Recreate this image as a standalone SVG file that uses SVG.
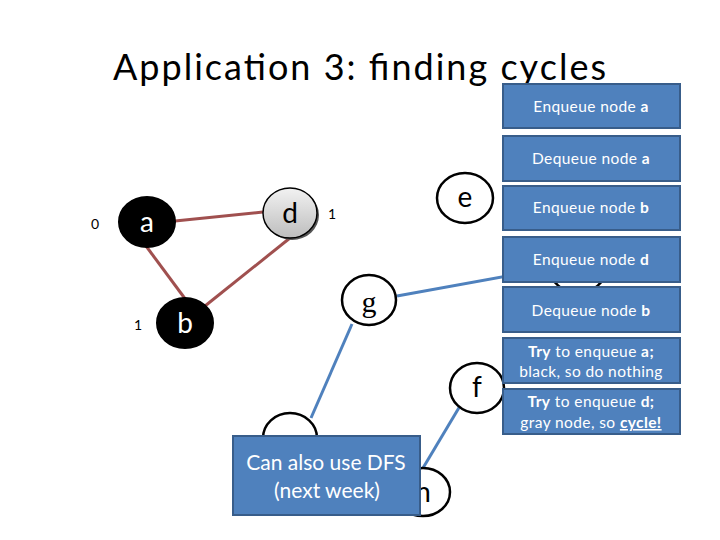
<svg xmlns="http://www.w3.org/2000/svg" width="720" height="540" viewBox="0 0 720 540">
<defs>
<style>
.t{font-family:Lato,"Liberation Sans",sans-serif;}
.node{fill:#fff;stroke:#000;stroke-width:2.5;}
.blk{fill:#000;stroke:#000;stroke-width:2;}
.lbl{font-family:Lato,"Liberation Sans",sans-serif;font-size:28px;text-anchor:middle;fill:#000;}
.ser{font-family:"Liberation Serif",serif;font-size:30px;text-anchor:middle;fill:#000;}
.num{font-family:Lato,"Liberation Sans",sans-serif;font-size:14px;fill:#000;}
.box{fill:#4f81bd;stroke:#385d8a;stroke-width:2;}
.bt{font-family:Lato,"Liberation Sans",sans-serif;font-size:15.5px;letter-spacing:0.4px;fill:#fff;text-anchor:middle;}
.red{stroke:#a0504f;stroke-width:3;fill:none;}
.blue{stroke:#4f81bd;stroke-width:3;fill:none;}
</style>
<linearGradient id="gray" x1="0" y1="0" x2="0" y2="1">
<stop offset="0" stop-color="#f2f2f2"/>
<stop offset="1" stop-color="#bdbdbd"/>
</linearGradient>
</defs>
<rect width="720" height="540" fill="#fff"/>
<text class="t" x="113" y="80" font-size="36" fill="#000" textLength="493">Application 3: finding cycles</text>

<g id="connectors">
<line class="red" x1="175" y1="221" x2="263" y2="212"/>
<line class="red" x1="146" y1="246" x2="186" y2="300"/>
<line class="red" x1="290" y1="238" x2="205" y2="306"/>
<line class="blue" x1="397" y1="296" x2="551" y2="268"/>
<line class="blue" x1="352" y1="324" x2="311" y2="418"/>
<line class="blue" x1="460" y1="406" x2="423" y2="468"/>
</g>

<g id="node-a"><ellipse class="blk" cx="147" cy="222" rx="28" ry="25"/><text class="lbl" x="147" y="232" style="fill:#fff">a</text><text class="num" x="91" y="229">0</text></g>
<g id="node-b"><ellipse class="blk" cx="185" cy="323" rx="28" ry="25"/><text class="lbl" x="185" y="333" style="fill:#fff">b</text><text class="num" x="134" y="330">1</text></g>
<g id="node-d"><ellipse cx="292" cy="215" rx="27" ry="25" fill="#555"/><ellipse cx="290" cy="213" rx="27" ry="25" fill="url(#gray)" stroke="#000" stroke-width="1.5"/><text class="lbl" x="290" y="223">d</text><text class="num" x="328" y="219">1</text></g>
<g id="node-e"><ellipse class="node" cx="465" cy="198" rx="28" ry="25"/><text class="lbl" x="465" y="207">e</text></g>
<g id="node-g"><ellipse class="node" cx="369" cy="300" rx="27" ry="25"/><text class="ser" x="369" y="312">g</text></g>
<g id="node-c"><ellipse class="node" cx="578" cy="268" rx="28" ry="25"/></g>
<g id="node-f"><ellipse class="node" cx="477" cy="388" rx="27" ry="25"/><text class="lbl" x="477" y="397">f</text></g>
<g id="node-i"><ellipse class="node" cx="290" cy="438" rx="27" ry="25"/></g>
<g id="node-h"><ellipse class="node" cx="423" cy="492" rx="27" ry="24"/><text class="lbl" x="423" y="502">h</text></g>

<g id="dfs-note"><rect class="box" x="233" y="436" width="187" height="79"/>
<text class="t" x="326" y="470" font-size="21" fill="#fff" text-anchor="middle">Can also use DFS</text>
<text class="t" x="327" y="498" font-size="21" fill="#fff" text-anchor="middle">(next week)</text></g>

<g id="step1"><rect class="box" x="503" y="84" width="177" height="44"/><text class="bt" x="591" y="112">Enqueue node <tspan font-weight="bold">a</tspan></text></g>
<g id="step2"><rect class="box" x="503" y="136" width="177" height="45"/><text class="bt" x="591" y="164">Dequeue node <tspan font-weight="bold">a</tspan></text></g>
<g id="step3"><rect class="box" x="503" y="186" width="177" height="44"/><text class="bt" x="591" y="213">Enqueue node <tspan font-weight="bold">b</tspan></text></g>
<g id="step4"><rect class="box" x="503" y="237" width="177" height="45"/><text class="bt" x="591" y="265">Enqueue node <tspan font-weight="bold">d</tspan></text></g>
<g id="step5"><rect class="box" x="503" y="287" width="177" height="45"/><text class="bt" x="591" y="316">Dequeue node <tspan font-weight="bold">b</tspan></text></g>
<g id="step6"><rect class="box" x="503" y="338" width="177" height="45"/><text class="bt" x="591" y="357"><tspan font-weight="bold">Try</tspan> to enqueue <tspan font-weight="bold">a;</tspan></text><text class="bt" x="591" y="377">black, so do nothing</text></g>
<g id="step7"><rect class="box" x="503" y="389" width="177" height="45"/><text class="bt" x="591" y="407"><tspan font-weight="bold">Try</tspan> to enqueue <tspan font-weight="bold">d;</tspan></text><text class="bt" x="591" y="428">gray node, so <tspan font-weight="bold" text-decoration="underline">cycle!</tspan></text></g>
</svg>
